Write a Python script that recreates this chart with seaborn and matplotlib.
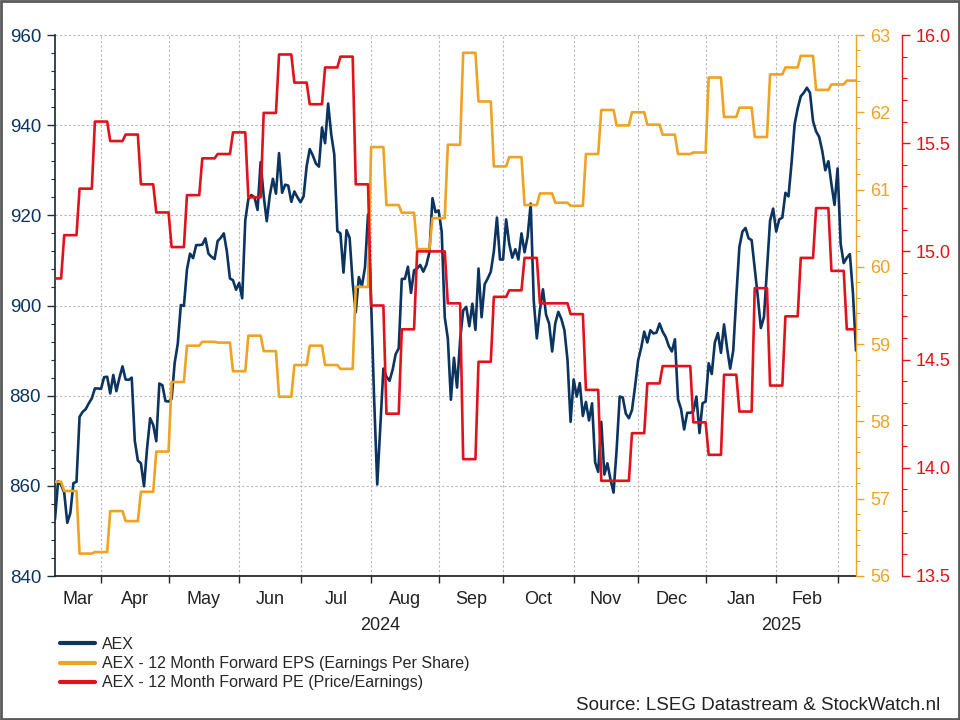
import numpy as np
import pandas as pd
import matplotlib.pyplot as plt
from matplotlib.lines import Line2D
from matplotlib.patches import Rectangle
from matplotlib.ticker import MultipleLocator, FixedLocator, NullFormatter, FixedFormatter
import matplotlib.transforms as mtransforms
import seaborn as sns

sns.set_theme(style="white")
plt.rcParams["font.family"] = ["Liberation Sans", "DejaVu Sans"]

# ----------------------------------------------------------
# Data (business days, 11 Mar 2024 - 11 Mar 2025)
# ----------------------------------------------------------
dates = pd.bdate_range("2024-03-11", "2025-03-11")

aex = [
    852.6, 861.0, 860.2, 858.5, 851.8, 854.0, 860.6, 860.9, 875.3, 876.4,
    877.0, 878.3, 879.4, 881.6, 881.6, 881.5, 884.1, 884.2, 880.5, 884.6,
    881.0, 884.0, 886.5, 883.6, 883.5, 884.0, 870.0, 865.6, 865.0, 859.9,
    868.3, 875.0, 873.5, 869.9, 882.7, 882.3, 878.8, 878.7, 879.3, 887.3,
    891.5, 900.1, 899.9, 908.0, 911.5, 910.5, 913.4, 913.4, 913.5, 914.9,
    911.5, 910.8, 910.3, 914.3, 915.0, 916.0, 912.0, 906.0, 905.6, 903.5,
    905.0, 901.6, 918.9, 923.6, 924.5, 924.0, 921.2, 931.8, 924.3, 918.7,
    924.5, 928.1, 924.8, 933.8, 925.0, 926.8, 926.6, 923.0, 925.3, 924.0,
    922.9, 924.2, 930.9, 934.7, 933.3, 931.5, 930.8, 939.5, 936.0, 944.8,
    938.0, 933.5, 916.5, 916.0, 907.3, 916.7, 915.0, 905.0, 898.5, 906.3,
    904.3, 908.4, 920.2, 901.0, 879.0, 860.3, 873.0, 886.0, 884.2, 883.3,
    885.7, 889.2, 890.5, 905.9, 905.9, 908.6, 902.8, 907.8, 908.2, 909.0,
    907.5, 909.0, 911.8, 923.8, 920.7, 921.1, 916.4, 897.4, 892.7, 879.1,
    888.4, 881.8, 892.3, 898.9, 899.7, 895.4, 900.4, 894.6, 908.2, 897.4,
    904.7, 906.0, 907.5, 912.0, 919.5, 910.2, 910.2, 919.1, 913.7, 910.6,
    912.5, 910.2, 916.0, 911.8, 915.3, 922.6, 901.0, 892.7, 899.0, 903.6,
    898.0, 896.0, 889.8, 896.0, 898.6, 897.0, 894.5, 887.9, 874.2, 883.6,
    879.8, 882.8, 875.5, 878.6, 874.5, 878.3, 865.2, 863.1, 874.2, 862.5,
    865.0, 861.4, 858.5, 868.0, 879.8, 879.6, 876.0, 875.0, 876.8, 882.0,
    887.8, 890.6, 894.2, 891.8, 894.5, 893.8, 894.0, 896.0, 894.2, 893.0,
    891.0, 889.8, 892.5, 879.2, 877.0, 872.5, 876.2, 876.2, 876.5, 879.8,
    871.7, 878.3, 878.7, 887.2, 884.8, 891.8, 893.9, 889.5, 895.8, 890.5,
    886.0, 890.0, 902.0, 913.0, 916.4, 917.2, 914.9, 914.5, 908.2, 902.0,
    895.0, 897.4, 908.0, 918.8, 921.5, 916.4, 919.1, 919.5, 925.0, 924.2,
    931.6, 940.2, 943.7, 946.4, 947.2, 948.3, 947.2, 940.9, 938.6, 937.4,
    934.3, 930.0, 932.0, 926.9, 922.3, 930.4, 913.7, 909.4, 910.6, 911.4,
    902.8, 890.0,
]

# weekly estimates, updated every Thursday (first value = start of series)
step_dates = pd.DatetimeIndex(["2024-03-11"]).append(
    pd.date_range("2024-03-14", "2025-03-06", freq="7D"))

eps = [
    57.22, 57.10, 56.29, 56.31, 56.84, 56.71, 57.09, 57.61, 58.51, 58.98,
    59.03, 59.02, 58.65, 59.11, 58.91, 58.32, 58.73, 58.98, 58.73, 58.68,
    59.74, 61.55, 60.80, 60.70, 60.23, 60.63, 61.58, 62.77, 62.14, 61.30,
    61.42, 60.80, 60.95, 60.83, 60.79, 61.46, 62.03, 61.83, 62.00, 61.84,
    61.71, 61.46, 61.48, 62.45, 61.94, 62.06, 61.68, 62.49, 62.58, 62.73,
    62.29, 62.36, 62.41,
]

pe = [
    14.875, 15.075, 15.29, 15.60, 15.51, 15.54, 15.31, 15.18, 15.02, 15.26,
    15.43, 15.45, 15.55, 15.25, 15.64, 15.91, 15.78, 15.68, 15.85, 15.90,
    15.31, 14.75, 14.25, 14.64, 15.00, 15.00, 14.76, 14.04, 14.49, 14.79,
    14.82, 14.97, 14.76, 14.76, 14.71, 14.36, 13.94, 13.94, 14.16, 14.39,
    14.47, 14.47, 14.21, 14.06, 14.43, 14.26, 14.83, 14.38, 14.70, 14.97,
    15.20, 14.91, 14.64,
]

labels = [
    "AEX",
    "AEX - 12 Month Forward EPS (Earnings Per Share)",
    "AEX - 12 Month Forward PE (Price/Earnings)",
]

NAVY = "#0b3461"
ORANGE = "#efa322"
RED = "#e1121c"

df = pd.DataFrame({"aex": aex}, index=dates)
df["eps"] = pd.Series(eps, index=step_dates).reindex(dates, method="ffill")
df["pe"] = pd.Series(pe, index=step_dates).reindex(dates, method="ffill")
df["pos"] = np.arange(len(df))

# ----------------------------------------------------------
# Figure
# ----------------------------------------------------------
fig = plt.figure(figsize=(9.6, 7.2), dpi=100)
ax = fig.add_axes([55 / 960, 1 - 576 / 720, (856 - 55) / 960, (576 - 35) / 720])
ax2 = ax.twinx()
ax3 = ax.twinx()

lw = 1.9
sns.lineplot(data=df, x="pos", y="aex", ax=ax, color=NAVY, lw=lw, estimator=None)
sns.lineplot(data=df, x="pos", y="eps", ax=ax2, color=ORANGE, lw=lw, estimator=None)
sns.lineplot(data=df, x="pos", y="pe", ax=ax3, color=RED, lw=lw, estimator=None)

n = len(df)
ax.set_xlim(0, n - 1)
ax.set_ylim(840, 960)
ax2.set_ylim(56, 63)
ax3.set_ylim(13.5, 16.0)
for a in (ax, ax2, ax3):
    a.set_xlabel("")
    a.set_ylabel("")

# month boundaries / labels
starts = [i for i in range(1, n) if dates[i].month != dates[i - 1].month]
bounds = [0] + starts + [n - 1]
centers, mlabels = [], []
for a0, a1 in zip(bounds[:-1], bounds[1:]):
    if a1 - a0 >= 10:
        centers.append((a0 + a1) / 2)
        mlabels.append(dates[a0].strftime("%b"))

ax.xaxis.set_major_locator(FixedLocator(starts))
ax.xaxis.set_major_formatter(NullFormatter())
ax.xaxis.set_minor_locator(FixedLocator(centers))
ax.xaxis.set_minor_formatter(FixedFormatter(mlabels))
ax.tick_params(axis="x", which="major", bottom=True, length=5, width=1, color="#222222")
ax.tick_params(axis="x", which="minor", bottom=True, length=0, labelsize=13,
               pad=11, labelcolor="#222222")

# year labels under the months
first_2025 = int(np.flatnonzero(dates.year == 2025)[0])
trans = mtransforms.blended_transform_factory(ax.transData, ax.transAxes)
ax.text(first_2025 / 2, -0.091, "2024", transform=trans, ha="center", va="center",
        fontsize=13, color="#222222")
ax.text((first_2025 + n - 1) / 2, -0.091, "2025", transform=trans, ha="center",
        va="center", fontsize=13, color="#222222")

# left axis (AEX)
ax.yaxis.set_major_locator(MultipleLocator(20))
ax.yaxis.set_minor_locator(MultipleLocator(4))
ax.tick_params(axis="y", which="major", left=True, length=6, width=1, color="#1c2f45",
               labelsize=13.5, labelcolor=NAVY, pad=4)
ax.tick_params(axis="y", which="minor", left=True, length=3, width=0.8, color="#1c2f45")
ax.grid(True, which="major", axis="both", color="#b8b8b8", linestyle=(0, (2, 2)), lw=0.8)

# EPS axis
ax2.yaxis.set_major_locator(MultipleLocator(1))
ax2.yaxis.set_minor_locator(MultipleLocator(0.2))
ax2.tick_params(axis="y", which="major", right=True, length=6, width=1, color=ORANGE,
                labelsize=13, labelcolor=ORANGE, pad=4)
ax2.tick_params(axis="y", which="minor", right=True, length=3, width=0.8, color=ORANGE)
ax2.grid(False)

# PE axis
ax3.spines["right"].set_position(("outward", 33))
ax3.yaxis.set_major_locator(MultipleLocator(0.5))
ax3.yaxis.set_minor_locator(MultipleLocator(0.1))
ax3.yaxis.set_major_formatter(plt.FormatStrFormatter("%.1f"))
ax3.tick_params(axis="y", which="major", right=True, length=6, width=1, color=RED,
                labelsize=13, labelcolor=RED, pad=4)
ax3.tick_params(axis="y", which="minor", right=True, length=3.5, width=0.8, color=RED)
ax3.grid(False)

for s in ("top", "right"):
    ax.spines[s].set_visible(False)
ax.spines["left"].set_color("#1c2f45")
ax.spines["bottom"].set_color("#222222")
for a, c in ((ax2, ORANGE), (ax3, RED)):
    for s in ("top", "left", "bottom"):
        a.spines[s].set_visible(False)
    a.spines["right"].set_color(c)
    a.spines["right"].set_linewidth(1)

# legend below the plot
handles = [Line2D([], [], color=c, lw=3) for c in (NAVY, ORANGE, RED)]
fig.legend(handles, labels, loc="upper left", bbox_to_anchor=(0.062, 1 - 637 / 720),
           frameon=False, fontsize=11.5, handlelength=2.2, handletextpad=0.45,
           labelspacing=0.26, borderaxespad=0, borderpad=0)

fig.text(0.979, 1 - 706 / 720, "Source: LSEG Datastream & StockWatch.nl", ha="right",
         va="center", fontsize=13.5, color="#222222")

fig.patches.append(Rectangle((0.001, 0.001), 0.998, 0.997, transform=fig.transFigure,
                             fill=False, edgecolor="#5a5a5a", lw=2))

fig.savefig("out.png", dpi=100)
